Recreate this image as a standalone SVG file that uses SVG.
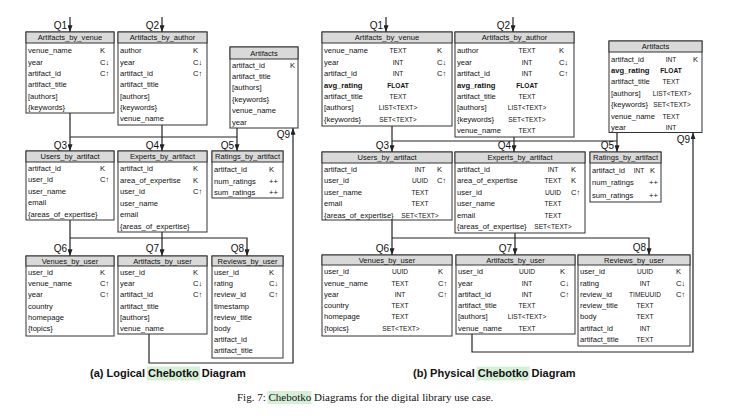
<svg xmlns="http://www.w3.org/2000/svg" width="732" height="416" viewBox="0 0 732 416">
<style>
.bx{fill:#fff;stroke:#333;stroke-width:1}
.hd{fill:#d9d9d9;stroke:#333;stroke-width:1}
text{font-family:"Liberation Sans",Arial,sans-serif;fill:#111}
.n{font-size:7.6px}
.h{font-size:7.6px;text-anchor:middle}
.ty{font-size:6.6px;text-anchor:middle}
.bd{font-weight:bold}
.q{font-size:10px;text-anchor:end}
.c{fill:none;stroke:#222;stroke-width:1.2}
.ttl{font-size:11px;font-weight:bold}
.cap{font-family:"Liberation Serif","Times New Roman",serif;font-size:11px}
.hl{fill:#d6f0d8}
</style>
<defs>
<marker id="ah" viewBox="0 0 8 6" refX="8" refY="3" markerWidth="7" markerHeight="5" markerUnits="userSpaceOnUse" orient="auto"><path d="M0,0 L8,3 L0,6 z" fill="#222"/></marker>
</defs>

<g id="connectors">
<path class="c" d="M70,17 V32" marker-end="url(#ah)"/>
<path class="c" d="M162,17 V32" marker-end="url(#ah)"/>
<path class="c" d="M70,113 V151" marker-end="url(#ah)"/>
<path class="c" d="M70,137 H237"/>
<path class="c" d="M162,125 V151" marker-end="url(#ah)"/>
<path class="c" d="M237,128 V151" marker-end="url(#ah)"/>
<path class="c" d="M70,220 V256" marker-end="url(#ah)"/>
<path class="c" d="M70,238 H247 V256" marker-end="url(#ah)"/>
<path class="c" d="M162,232 V256" marker-end="url(#ah)"/>
<path class="c" d="M149,334 V363 H293 V128" marker-end="url(#ah)"/>

<path class="c" d="M386,17 V32" marker-end="url(#ah)"/>
<path class="c" d="M513,17 V32" marker-end="url(#ah)"/>
<path class="c" d="M392,126 V152" marker-end="url(#ah)"/>
<path class="c" d="M392,141 H617"/>
<path class="c" d="M514,137 V152" marker-end="url(#ah)"/>
<path class="c" d="M617,132.5 V152" marker-end="url(#ah)"/>
<path class="c" d="M392,220 V255" marker-end="url(#ah)"/>
<path class="c" d="M392,238 H649 V255" marker-end="url(#ah)"/>
<path class="c" d="M515,233 V255" marker-end="url(#ah)"/>
<path class="c" d="M472,334 V352 H693 V132.5" marker-end="url(#ah)"/>
</g>

<g id="query-labels">
<text class="q" x="67" y="28.5">Q1</text>
<text class="q" x="159" y="28.5">Q2</text>
<text class="q" x="67" y="148.5">Q3</text>
<text class="q" x="159" y="148.5">Q4</text>
<text class="q" x="234" y="148.5">Q5</text>
<text class="q" x="67" y="252">Q6</text>
<text class="q" x="159" y="252">Q7</text>
<text class="q" x="244" y="252">Q8</text>
<text class="q" x="290" y="137.5">Q9</text>
<text class="q" x="383" y="28.5">Q1</text>
<text class="q" x="510" y="28.5">Q2</text>
<text class="q" x="389" y="148.5">Q3</text>
<text class="q" x="511" y="148.5">Q4</text>
<text class="q" x="614" y="148.5">Q5</text>
<text class="q" x="389" y="252">Q6</text>
<text class="q" x="512" y="252">Q7</text>
<text class="q" x="646" y="251">Q8</text>
<text class="q" x="690" y="142.5">Q9</text>
</g>

<!-- Logical diagram -->
<g id="l-artifacts-by-venue">
<rect class="bx" x="26" y="32" width="88" height="81"/>
<rect class="hd" x="26" y="32" width="88" height="11"/>
<text class="h" x="70" y="40.3">Artifacts_by_venue</text>
<text class="n" x="28" y="53.3">venue_name</text><text class="n" x="100" y="53.3">K</text>
<text class="n" x="28" y="64.6">year</text><text class="n" x="100" y="64.6">C↓</text>
<text class="n" x="28" y="75.9">artifact_id</text><text class="n" x="100" y="75.9">C↑</text>
<text class="n" x="28" y="87.2">artifact_title</text>
<text class="n" x="28" y="98.5">[authors]</text>
<text class="n" x="28" y="109.8">{keywords}</text>
</g>

<g id="l-artifacts-by-author">
<rect class="bx" x="118" y="32" width="89" height="93"/>
<rect class="hd" x="118" y="32" width="89" height="11"/>
<text class="h" x="162.5" y="40.3">Artifacts_by_author</text>
<text class="n" x="120" y="53.3">author</text><text class="n" x="193" y="53.3">K</text>
<text class="n" x="120" y="64.6">year</text><text class="n" x="193" y="64.6">C↓</text>
<text class="n" x="120" y="75.9">artifact_id</text><text class="n" x="193" y="75.9">C↑</text>
<text class="n" x="120" y="87.2">artifact_title</text>
<text class="n" x="120" y="98.5">[authors]</text>
<text class="n" x="120" y="109.8">{keywords}</text>
<text class="n" x="120" y="121.1">venue_name</text>
</g>

<g id="l-artifacts">
<rect class="bx" x="230" y="47" width="68" height="81"/>
<rect class="hd" x="230" y="47" width="68" height="12"/>
<text class="h" x="264" y="55.8">Artifacts</text>
<text class="n" x="232" y="67.5">artifact_id</text><text class="n" x="290" y="67.5">K</text>
<text class="n" x="232" y="78.9">artifact_title</text>
<text class="n" x="232" y="90.3">[authors]</text>
<text class="n" x="232" y="101.7">{keywords}</text>
<text class="n" x="232" y="113.1">venue_name</text>
<text class="n" x="232" y="124.5">year</text>
</g>

<g id="l-users-by-artifact">
<rect class="bx" x="26" y="151" width="88" height="69"/>
<rect class="hd" x="26" y="151" width="88" height="11"/>
<text class="h" x="70" y="159.3">Users_by_artifact</text>
<text class="n" x="28" y="170.8">artifact_id</text><text class="n" x="100" y="170.8">K</text>
<text class="n" x="28" y="182.3">user_id</text><text class="n" x="100" y="182.3">C↑</text>
<text class="n" x="28" y="193.8">user_name</text>
<text class="n" x="28" y="205.3">email</text>
<text class="n" x="28" y="216.8">{areas_of_expertise}</text>
</g>

<g id="l-experts-by-artifact">
<rect class="bx" x="118" y="151" width="89" height="81"/>
<rect class="hd" x="118" y="151" width="89" height="11"/>
<text class="h" x="162.5" y="159.3">Experts_by_artifact</text>
<text class="n" x="120" y="171">artifact_id</text><text class="n" x="193" y="171">K</text>
<text class="n" x="120" y="182.5">area_of_expertise</text><text class="n" x="193" y="182.5">K</text>
<text class="n" x="120" y="194">user_id</text><text class="n" x="193" y="194">C↑</text>
<text class="n" x="120" y="205.5">user_name</text>
<text class="n" x="120" y="217">email</text>
<text class="n" x="120" y="228.5">{areas_of_expertise}</text>
</g>

<g id="l-ratings-by-artifact">
<rect class="bx" x="212" y="151" width="71" height="47"/>
<rect class="hd" x="212" y="151" width="71" height="11"/>
<text class="h" x="247.5" y="159.3">Ratings_by_artifact</text>
<text class="n" x="214" y="171.5">artifact_id</text><text class="n" x="269" y="171.5">K</text>
<text class="n" x="214" y="184.2">num_ratings</text><text class="n" x="269" y="184.2">++</text>
<text class="n" x="214" y="194.8">sum_ratings</text><text class="n" x="269" y="194.8">++</text>
</g>

<g id="l-venues-by-user">
<rect class="bx" x="26" y="256" width="88" height="80"/>
<rect class="hd" x="26" y="256" width="88" height="10"/>
<text class="h" x="70" y="263.8">Venues_by_user</text>
<text class="n" x="28" y="275">user_id</text><text class="n" x="100" y="275">K</text>
<text class="n" x="28" y="286.2">venue_name</text><text class="n" x="100" y="286.2">C↑</text>
<text class="n" x="28" y="297.4">year</text><text class="n" x="100" y="297.4">C↑</text>
<text class="n" x="28" y="308.6">country</text>
<text class="n" x="28" y="319.8">homepage</text>
<text class="n" x="28" y="331">{topics}</text>
</g>

<g id="l-artifacts-by-user">
<rect class="bx" x="118" y="256" width="89" height="78"/>
<rect class="hd" x="118" y="256" width="89" height="10"/>
<text class="h" x="162.5" y="263.8">Artifacts_by_user</text>
<text class="n" x="120" y="275">user_id</text><text class="n" x="193" y="275">K</text>
<text class="n" x="120" y="286.2">year</text><text class="n" x="193" y="286.2">C↓</text>
<text class="n" x="120" y="297.4">artifact_id</text><text class="n" x="193" y="297.4">C↑</text>
<text class="n" x="120" y="308.6">artifact_title</text>
<text class="n" x="120" y="319.8">[authors]</text>
<text class="n" x="120" y="331">venue_name</text>
</g>

<g id="l-reviews-by-user">
<rect class="bx" x="212" y="256" width="71" height="102"/>
<rect class="hd" x="212" y="256" width="71" height="10"/>
<text class="h" x="247.5" y="263.8">Reviews_by_user</text>
<text class="n" x="214" y="275">user_id</text><text class="n" x="269" y="275">K</text>
<text class="n" x="214" y="286.2">rating</text><text class="n" x="269" y="286.2">C↓</text>
<text class="n" x="214" y="297.4">review_id</text><text class="n" x="269" y="297.4">C↑</text>
<text class="n" x="214" y="308.6">timestamp</text>
<text class="n" x="214" y="319.8">review_title</text>
<text class="n" x="214" y="331">body</text>
<text class="n" x="214" y="342.2">artifact_id</text>
<text class="n" x="214" y="353.4">artifact_title</text>
</g>

<!-- Physical diagram -->
<g id="p-artifacts-by-venue">
<rect class="bx" x="322" y="32" width="130" height="94"/>
<rect class="hd" x="322" y="32" width="130" height="11"/>
<text class="h" x="387" y="40.3">Artifacts_by_venue</text>
<text class="n" x="324" y="53.3">venue_name</text><text class="ty" x="398" y="53.3">TEXT</text><text class="n" x="437" y="53.3">K</text>
<text class="n" x="324" y="64.7">year</text><text class="ty" x="398" y="64.7">INT</text><text class="n" x="437" y="64.7">C↓</text>
<text class="n" x="324" y="76.1">artifact_id</text><text class="ty" x="398" y="76.1">INT</text><text class="n" x="437" y="76.1">C↑</text>
<text class="n bd" x="324" y="87.5">avg_rating</text><text class="ty bd" x="398" y="87.5">FLOAT</text>
<text class="n" x="324" y="98.9">artifact_title</text><text class="ty" x="398" y="98.9">TEXT</text>
<text class="n" x="324" y="110.3">[authors]</text><text class="ty" x="398" y="110.3">LIST&lt;TEXT&gt;</text>
<text class="n" x="324" y="121.7">{keywords}</text><text class="ty" x="398" y="121.7">SET&lt;TEXT&gt;</text>
</g>

<g id="p-artifacts-by-author">
<rect class="bx" x="455" y="32" width="119" height="105"/>
<rect class="hd" x="455" y="32" width="119" height="11"/>
<text class="h" x="514.5" y="40.3">Artifacts_by_author</text>
<text class="n" x="457" y="53.3">author</text><text class="ty" x="527" y="53.3">TEXT</text><text class="n" x="559" y="53.3">K</text>
<text class="n" x="457" y="64.7">year</text><text class="ty" x="527" y="64.7">INT</text><text class="n" x="559" y="64.7">C↓</text>
<text class="n" x="457" y="76.1">artifact_id</text><text class="ty" x="527" y="76.1">INT</text><text class="n" x="559" y="76.1">C↑</text>
<text class="n bd" x="457" y="87.5">avg_rating</text><text class="ty bd" x="527" y="87.5">FLOAT</text>
<text class="n" x="457" y="98.9">artifact_title</text><text class="ty" x="527" y="98.9">TEXT</text>
<text class="n" x="457" y="110.3">[authors]</text><text class="ty" x="527" y="110.3">LIST&lt;TEXT&gt;</text>
<text class="n" x="457" y="121.7">{keywords}</text><text class="ty" x="527" y="121.7">SET&lt;TEXT&gt;</text>
<text class="n" x="457" y="133.1">venue_name</text><text class="ty" x="527" y="133.1">TEXT</text>
</g>

<g id="p-artifacts">
<rect class="bx" x="609" y="41" width="93" height="91.5"/>
<rect class="hd" x="609" y="41" width="93" height="11"/>
<text class="h" x="655.5" y="49.3">Artifacts</text>
<text class="n" x="611" y="61.5">artifact_id</text><text class="ty" x="671" y="61.5">INT</text><text class="n" x="693" y="61.5">K</text>
<text class="n bd" x="611" y="72.9">avg_rating</text><text class="ty bd" x="671" y="72.9">FLOAT</text>
<text class="n" x="611" y="84.3">artifact_title</text><text class="ty" x="671" y="84.3">TEXT</text>
<text class="n" x="611" y="95.7">[authors]</text><text class="ty" x="672" y="95.7">LIST&lt;TEXT&gt;</text>
<text class="n" x="611" y="107.1">{keywords}</text><text class="ty" x="672" y="107.1">SET&lt;TEXT&gt;</text>
<text class="n" x="611" y="118.5">venue_name</text><text class="ty" x="671" y="118.5">TEXT</text>
<text class="n" x="611" y="129.9">year</text><text class="ty" x="671" y="129.9">INT</text>
</g>

<g id="p-users-by-artifact">
<rect class="bx" x="322" y="152" width="130" height="68"/>
<rect class="hd" x="322" y="152" width="130" height="11"/>
<text class="h" x="387" y="160.3">Users_by_artifact</text>
<text class="n" x="324" y="171.5">artifact_id</text><text class="ty" x="420" y="171.5">INT</text><text class="n" x="437" y="171.5">K</text>
<text class="n" x="324" y="183">user_id</text><text class="ty" x="420" y="183">UUID</text><text class="n" x="437" y="183">C↑</text>
<text class="n" x="324" y="194.5">user_name</text><text class="ty" x="420" y="194.5">TEXT</text>
<text class="n" x="324" y="206">email</text><text class="ty" x="420" y="206">TEXT</text>
<text class="n" x="324" y="217.5">{areas_of_expertise}</text><text class="ty" x="420" y="217.5">SET&lt;TEXT&gt;</text>
</g>

<g id="p-experts-by-artifact">
<rect class="bx" x="455" y="152" width="130" height="81"/>
<rect class="hd" x="455" y="152" width="130" height="11"/>
<text class="h" x="520" y="160.3">Experts_by_artifact</text>
<text class="n" x="457" y="171.5">artifact_id</text><text class="ty" x="553" y="171.5">INT</text><text class="n" x="571" y="171.5">K</text>
<text class="n" x="457" y="183">area_of_expertise</text><text class="ty" x="553" y="183">TEXT</text><text class="n" x="571" y="183">K</text>
<text class="n" x="457" y="194.5">user_id</text><text class="ty" x="553" y="194.5">UUID</text><text class="n" x="571" y="194.5">C↑</text>
<text class="n" x="457" y="206">user_name</text><text class="ty" x="553" y="206">TEXT</text>
<text class="n" x="457" y="217.5">email</text><text class="ty" x="553" y="217.5">TEXT</text>
<text class="n" x="457" y="229">{areas_of_expertise}</text><text class="ty" x="553" y="229">SET&lt;TEXT&gt;</text>
</g>

<g id="p-ratings-by-artifact">
<rect class="bx" x="590" y="152" width="71" height="50"/>
<rect class="hd" x="590" y="152" width="71" height="11"/>
<text class="h" x="625.5" y="160.3">Ratings_by_artifact</text>
<text class="n" x="592" y="172.5">artifact_id</text><text class="ty" x="639" y="172.5">INT</text><text class="n" x="650" y="172.5">K</text>
<text class="n" x="592" y="185">num_ratings</text><text class="n" x="649" y="185">++</text>
<text class="n" x="592" y="197.5">sum_ratings</text><text class="n" x="649" y="197.5">++</text>
</g>

<g id="p-venues-by-user">
<rect class="bx" x="322" y="255" width="130" height="81"/>
<rect class="hd" x="322" y="255" width="130" height="10"/>
<text class="h" x="387" y="262.8">Venues_by_user</text>
<text class="n" x="324" y="274.2">user_id</text><text class="ty" x="400" y="274.2">UUID</text><text class="n" x="438" y="274.2">K</text>
<text class="n" x="324" y="285.5">venue_name</text><text class="ty" x="400" y="285.5">TEXT</text><text class="n" x="438" y="285.5">C↑</text>
<text class="n" x="324" y="296.8">year</text><text class="ty" x="400" y="296.8">INT</text><text class="n" x="438" y="296.8">C↑</text>
<text class="n" x="324" y="308.1">country</text><text class="ty" x="400" y="308.1">TEXT</text>
<text class="n" x="324" y="319.4">homepage</text><text class="ty" x="400" y="319.4">TEXT</text>
<text class="n" x="324" y="330.7">{topics}</text><text class="ty" x="401" y="330.7">SET&lt;TEXT&gt;</text>
</g>

<g id="p-artifacts-by-user">
<rect class="bx" x="456" y="255" width="119" height="79"/>
<rect class="hd" x="456" y="255" width="119" height="10"/>
<text class="h" x="515.5" y="262.8">Artifacts_by_user</text>
<text class="n" x="458" y="274.2">user_id</text><text class="ty" x="527" y="274.2">UUID</text><text class="n" x="560" y="274.2">K</text>
<text class="n" x="458" y="285.5">year</text><text class="ty" x="527" y="285.5">INT</text><text class="n" x="560" y="285.5">C↓</text>
<text class="n" x="458" y="296.8">artifact_id</text><text class="ty" x="527" y="296.8">INT</text><text class="n" x="560" y="296.8">C↑</text>
<text class="n" x="458" y="308.1">artifact_title</text><text class="ty" x="527" y="308.1">TEXT</text>
<text class="n" x="458" y="319.4">[authors]</text><text class="ty" x="527" y="319.4">LIST&lt;TEXT&gt;</text>
<text class="n" x="458" y="330.7">venue_name</text><text class="ty" x="527" y="330.7">TEXT</text>
</g>

<g id="p-reviews-by-user">
<rect class="bx" x="578" y="255" width="112" height="91"/>
<rect class="hd" x="578" y="255" width="112" height="10"/>
<text class="h" x="634" y="262.8">Reviews_by_user</text>
<text class="n" x="580" y="274.2">user_id</text><text class="ty" x="645" y="274.2">UUID</text><text class="n" x="676" y="274.2">K</text>
<text class="n" x="580" y="285.5">rating</text><text class="ty" x="645" y="285.5">INT</text><text class="n" x="676" y="285.5">C↓</text>
<text class="n" x="580" y="296.8">review_id</text><text class="ty" x="645" y="296.8">TIMEUUID</text><text class="n" x="676" y="296.8">C↑</text>
<text class="n" x="580" y="308.1">review_title</text><text class="ty" x="645" y="308.1">TEXT</text>
<text class="n" x="580" y="319.4">body</text><text class="ty" x="645" y="319.4">TEXT</text>
<text class="n" x="580" y="330.7">artifact_id</text><text class="ty" x="645" y="330.7">INT</text>
<text class="n" x="580" y="342">artifact_title</text><text class="ty" x="645" y="342">TEXT</text>
</g>

<g id="titles">
<rect class="hl" x="147" y="366.5" width="53" height="14"/>
<text class="ttl" x="90" y="377">(a) Logical Chebotko Diagram</text>
<rect class="hl" x="476.5" y="366.5" width="53" height="14"/>
<text class="ttl" x="413" y="377">(b) Physical Chebotko Diagram</text>
<rect class="hl" x="267.5" y="391" width="44" height="13"/>
<text class="cap" x="237" y="401">Fig. 7: Chebotko Diagrams for the digital library use case.</text>
</g>
</svg>
